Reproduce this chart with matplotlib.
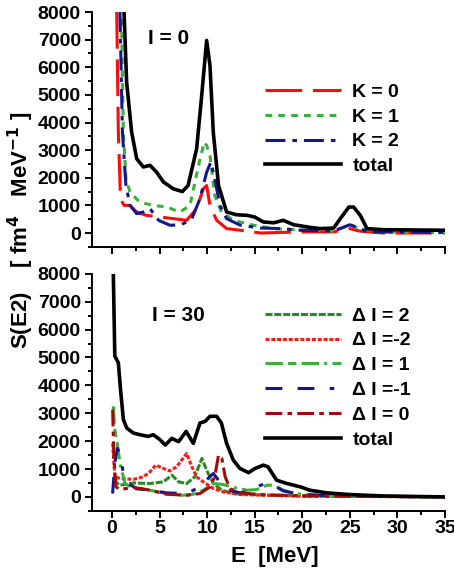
import matplotlib.pyplot as plt
from matplotlib.ticker import MultipleLocator

plt.rcParams['font.family'] = ['Liberation Sans', 'DejaVu Sans']
plt.rcParams['font.weight'] = 'bold'
plt.rcParams['mathtext.default'] = 'bf'

# upper panel, I = 0
k0_e = [0.5, 0.67, 0.9, 1.26, 1.9, 2.6, 3.6, 5.0, 6.45, 7.85, 8.9, 9.6, 9.95, 10.3, 11.0,
        12.05, 13.5, 15.6, 19.8, 23.3, 25.0, 26.0, 28.5, 35.0]
k0_s = [8000, 3650, 1240, 1000, 1000, 760, 640, 580, 520, 460, 880, 1600, 1720, 1000, 460,
        160, 100, 0, 40, 40, 160, 70, 0, 0]
k1_e = [1.0, 1.2, 1.47, 1.9, 2.9, 4.35, 5.75, 7.15, 8.2, 9.1, 9.7, 9.95, 10.3, 10.8, 11.5,
        12.75, 14.9, 17.0, 19.1, 23.3, 25.0, 26.0, 28.5, 35.0]
k1_s = [7750, 3650, 1970, 1480, 1120, 1000, 940, 760, 1000, 2450, 3290, 3170, 2810, 1360, 760,
        460, 280, 160, 120, 70, 280, 160, 40, 10]
k2_e = [0.84, 1.1, 1.47, 1.9, 2.6, 3.3, 4.0, 4.9, 6.1, 7.3, 8.4, 9.25, 9.95, 10.4, 10.8, 11.35,
        12.05, 13.5, 15.6, 17.7, 19.8, 23.3, 25.0, 26.0, 26.8, 35.0]
k2_s = [8000, 3650, 1720, 1000, 700, 760, 880, 460, 280, 300, 520, 1240, 2200, 2570, 1970, 1000,
        520, 280, 180, 160, 100, 70, 300, 180, 40, 20]
tot0_e = [1.26, 1.54, 2.07, 2.6, 3.3, 4.0, 4.7, 5.4, 6.45, 7.4, 8.0, 8.9, 9.4, 9.95, 10.3, 10.65,
          11.2, 12.05, 13.1, 14.2, 15.0, 15.9, 17.0, 18.0, 19.1, 20.8, 21.9, 23.3, 24.0, 24.9,
          25.4, 26.1, 26.8, 28.5, 35.0]
tot0_s = [8100, 5460, 3650, 2690, 2390, 2450, 2200, 1850, 1600, 1500, 1720, 3050, 4860, 6970,
          6070, 3650, 1720, 760, 660, 640, 580, 400, 370, 460, 300, 205, 160, 180, 520, 940,
          940, 640, 160, 120, 100]

# lower panel, I = 30
d2_e = [0.14, 0.84, 2.25, 4.0, 5.4, 6.3, 7.0, 7.85, 8.7, 9.45, 9.95, 10.65, 11.55, 12.75, 16.3, 35.0]
d2_s = [600, 420, 500, 480, 540, 780, 540, 480, 720, 1380, 960, 480, 240, 120, 60, 0]
dm2_e = [0.07, 0.3, 0.84, 2.25, 3.3, 4.0, 4.6, 5.4, 6.1, 6.8, 7.85, 8.4, 8.9, 9.6, 10.65, 11.7,
         13.45, 16.3, 19.8, 35.0]
dm2_s = [1920, 720, 660, 630, 720, 900, 1140, 1020, 930, 1080, 1560, 1080, 720, 540, 300, 180,
         85, 60, 25, 0]
d1_e = [0.14, 0.3, 0.56, 0.84, 1.37, 2.25, 4.0, 5.75, 7.5, 8.55, 9.6, 10.65, 11.7, 12.75, 14.2,
        15.2, 16.3, 17.0, 17.85, 19.1, 21.5, 23.3, 35.0]
d1_s = [3250, 2400, 1920, 1200, 480, 300, 240, 120, 60, 95, 240, 480, 445, 340, 240,
        265, 420, 420, 265, 120, 60, 25, 0]
dm1_e = [0.07, 0.3, 0.56, 0.84, 1.2, 1.7, 2.6, 4.0, 5.75, 7.85, 9.25, 10.1, 10.65, 11.2, 12.05,
         13.45, 14.9, 15.6, 16.3, 17.15, 18.0, 19.8, 23.3, 35.0]
dm1_s = [120, 1200, 1740, 1560, 840, 480, 300, 240, 145, 120, 360, 660, 840, 600, 265,
         145, 215, 420, 480, 385, 215, 95, 35, 0]
d0_e = [0.07, 0.2, 0.42, 0.84, 2.25, 3.65, 5.75, 7.85, 9.25, 10.3, 10.8, 11.2, 11.55, 11.9, 12.4,
        13.45, 15.6, 19.8, 35.0]
d0_s = [3130, 1440, 360, 265, 340, 265, 95, 60, 120, 360, 720, 1500, 1380, 720, 300,
        145, 85, 35, 0]
tot30_e = [0.14, 0.3, 0.67, 0.9, 1.2, 1.55, 2.25, 2.95, 3.8, 4.35, 5.05, 5.6, 6.3, 7.0, 7.8, 8.55,
           9.25, 9.8, 10.3, 11.0, 11.5, 12.05, 12.75, 13.45, 14.35, 15.05, 15.9, 16.4, 17.3,
           18.4, 19.8, 20.8, 22.6, 25.0, 28.5, 35.0]
tot30_s = [8040, 5050, 4810, 3850, 2770, 2470, 2290, 2230, 2170, 2230, 2050, 1860, 2100, 1980,
           2350, 1920, 2650, 2710, 2890, 2890, 2650, 1920, 1320, 1020, 870, 1020, 1140, 1080,
           600, 480, 360, 240, 145, 85, 35, 0]


def style_axes(ax):
    ax.set_xlim(-2.1, 35)
    ax.set_ylim(-500, 8000)
    ax.spines['top'].set_visible(False)
    ax.spines['right'].set_visible(False)
    ax.spines['left'].set_linewidth(1.4)
    ax.spines['bottom'].set_linewidth(1.4)
    ax.xaxis.set_major_locator(MultipleLocator(5))
    ax.xaxis.set_minor_locator(MultipleLocator(2.5))
    ax.yaxis.set_major_locator(MultipleLocator(1000))
    ax.yaxis.set_minor_locator(MultipleLocator(500))
    ax.tick_params(which='major', length=5, width=1.4, labelsize=14)
    ax.tick_params(which='minor', length=3, width=1.4)
    ax.tick_params(axis='x', pad=1.5)
    ax.tick_params(axis='y', pad=3)
    for lab in ax.get_xticklabels() + ax.get_yticklabels():
        lab.set_fontweight('bold')


leg_kw = dict(loc='upper left', frameon=False, fontsize=14, handlelength=3.9,
              handletextpad=0.6, labelspacing=0.37, borderaxespad=0)

fig = plt.figure(figsize=(4.54, 5.74), dpi=100)
ax1 = fig.add_axes([0.2026, 0.570, 0.7775, 0.409])
ax2 = fig.add_axes([0.2026, 0.110, 0.7775, 0.413])

lw = 2.2
ax1.plot(k0_e, k0_s, color='#ff0a0a', lw=lw, dashes=(12, 3.5), label='K = 0')
ax1.plot(k1_e, k1_s, color='#3cae3c', lw=lw, dashes=(2.2, 2), label='K = 1')
ax1.plot(k2_e, k2_s, color='#15158c', lw=lw, dashes=(6.5, 2.3, 1.5, 2.3), label='K = 2')
ax1.plot(tot0_e, tot0_s, color='black', lw=2.6, label='total')
style_axes(ax1)
ax1.tick_params(axis='x', labelbottom=False)
ax1.text(3.8, 7030, 'I = 0', fontsize=15, fontweight='bold', va='center')
ax1.legend(bbox_to_anchor=(0.468, 0.73), **leg_kw)

ax2.plot(d2_e, d2_s, color='#2a8a2a', lw=lw, dashes=(2.3, 0.6), label='Δ I = 2')
ax2.plot(dm2_e, dm2_s, color='#ff1a1a', lw=lw, dashes=(1.3, 0.6), label='Δ I =-2')
ax2.plot(d1_e, d1_s, color='#3cae3c', lw=lw, dashes=(5.7, 1.7, 2.7, 1.7, 5.7, 1.7, 1, 1.7),
         label='Δ I = 1')
ax2.plot(dm1_e, dm1_s, color='#15158c', lw=lw, dashes=(5.5, 5, 5.5, 5, 1.5, 5), label='Δ I =-1')
ax2.plot(d0_e, d0_s, color='#a00a0a', lw=lw, dashes=(5.5, 1.7, 1.5, 1.7), label='Δ I = 0')
ax2.plot(tot30_e, tot30_s, color='black', lw=2.6, label='total')
style_axes(ax2)
ax2.text(4.2, 6490, 'I = 30', fontsize=15, fontweight='bold', va='center')
ax2.legend(bbox_to_anchor=(0.468, 0.893), **leg_kw)

fig.text(0.606, 0.030, 'E  [MeV]', fontsize=16, fontweight='bold', ha='center', va='center')
fig.text(0.046, 0.598, 'S(E2)    [ fm$^{4}$   MeV$^{-1}$ ]', rotation=90,
         fontsize=16, fontweight='bold', ha='center', va='center')

fig.savefig('out.png', dpi=100)
